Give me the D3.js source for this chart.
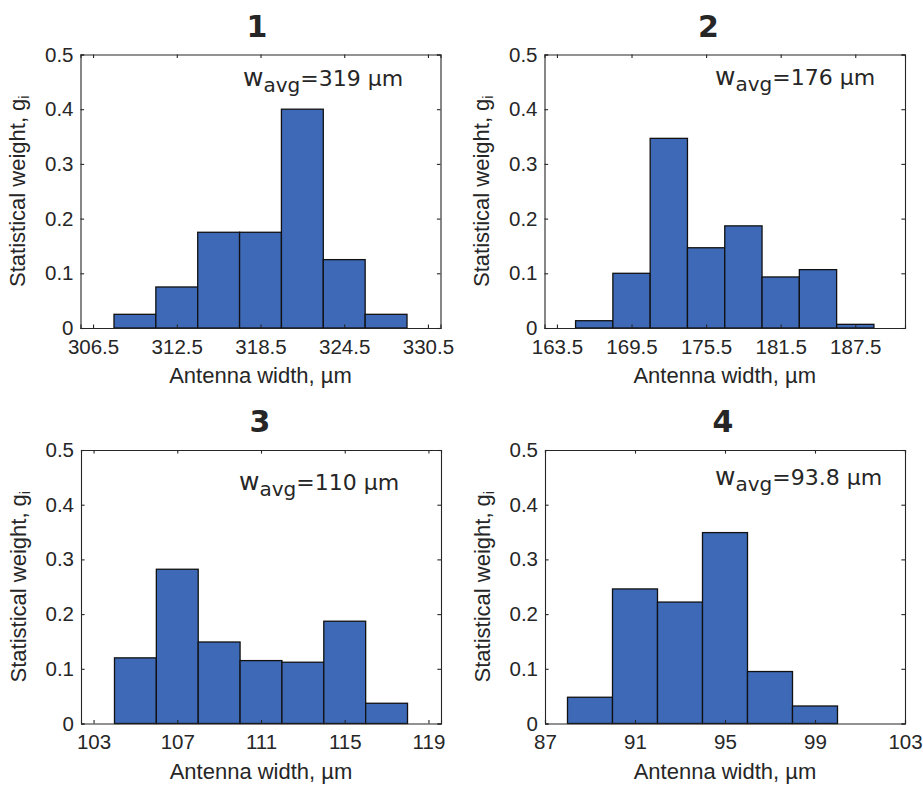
<!DOCTYPE html>
<meta charset="utf-8">
<head>
<script src="https://cdn.jsdelivr.net/npm/d3@7"></script>
<style>
  body { margin: 0; background: #fff; }
  text { font-family: "Liberation Sans", Arial, sans-serif; fill: #262626; }
</style>
</head>
<body>
<div id="chart"></div>
<script>

// histogram data
var titles = ["1", "2", "3", "4"];
var avgText = ["=319 µm", "=176 µm", "=110 µm", "=93.8 µm"];

var edges1 = [308, 311, 314, 317, 320, 323, 326, 329];
var weights1 = [0.025, 0.075, 0.175, 0.175, 0.4, 0.125, 0.025];
var ticks1 = [306.5, 312.5, 318.5, 324.5, 330.5];

var edges2 = [165, 168, 171, 174, 177, 180, 183, 186, 189];
var weights2 = [0.0133, 0.1, 0.3467, 0.1467, 0.1867, 0.0933, 0.1067, 0.0067];
var ticks2 = [163.5, 169.5, 175.5, 181.5, 187.5];

var edges3 = [104, 106, 108, 110, 112, 114, 116, 118];
var weights3 = [0.12, 0.282, 0.149, 0.115, 0.112, 0.187, 0.037];
var ticks3 = [103, 107, 111, 115, 119];

var edges4 = [88, 90, 92, 94, 96, 98, 100];
var weights4 = [0.048, 0.246, 0.222, 0.349, 0.095, 0.032];
var ticks4 = [87, 91, 95, 99, 103];

var yTicks = [0, 0.1, 0.2, 0.3, 0.4, 0.5];

var width = 923, height = 785;

// where each axes box sits and its x-limits
var panels = [
  {edges: edges1, w: weights1, ticks: ticks1, xlim: [305.6, 331.4], box: [80.5, 54.5, 440.5, 328], titleX: 257, annY: 86, annX: 243, ylabX: 25},
  {edges: edges2, w: weights2, ticks: ticks2, xlim: [162.5, 191.5], box: [544.5, 54.5, 905, 328], titleX: 708.5, annY: 85, annX: 715, ylabX: 489},
  {edges: edges3, w: weights3, ticks: ticks3, xlim: [102.4, 119.6], box: [81, 450, 441, 723.5], titleX: 260, annY: 490, annX: 239, ylabX: 26},
  {edges: edges4, w: weights4, ticks: ticks4, xlim: [87, 103], box: [545, 450, 905, 723.5], titleX: 723, annY: 485, annX: 715, ylabX: 490}
];

var svg = d3.select("#chart").append("svg")
    .attr("width", width)
    .attr("height", height);

var tickLen = 3.6;

panels.forEach(function(p, k) {
  var x0 = p.box[0], y0 = p.box[1], x1 = p.box[2], y1 = p.box[3];
  var x = d3.scaleLinear().domain(p.xlim).range([x0, x1]);
  var y = d3.scaleLinear().domain([0, 0.5]).range([y1, y0]);

  var g = svg.append("g");

  // bars
  var bins = p.w.map(function(v, i) { return {a: p.edges[i], b: p.edges[i + 1], v: v}; });
  g.selectAll(".bar")
    .data(bins)
    .enter().append("rect")
    .attr("class", "bar")
    .attr("x", function(d) { return x(d.a); })
    .attr("y", function(d) { return y(d.v); })
    .attr("width", function(d) { return x(d.b) - x(d.a); })
    .attr("height", function(d) { return y(0) - y(d.v); })
    .attr("fill", "#3d69b7")
    .attr("stroke", "#111")
    .attr("stroke-width", 1.3);

  // axes, inward ticks, drawn on top
  var xb = d3.axisBottom(x).tickValues(p.ticks).tickSize(-tickLen).tickPadding(11)
      .tickFormat(function(d) { return d % 1 ? d3.format(".1f")(d) : d; });
  var xt = d3.axisTop(x).tickValues(p.ticks).tickSize(-tickLen).tickFormat("");
  var yl = d3.axisLeft(y).tickValues(yTicks).tickSize(-tickLen).tickPadding(7)
      .tickFormat(function(d) { return d === 0 ? "0" : d3.format(".1f")(d); });
  var yr = d3.axisRight(y).tickValues(yTicks).tickSize(-tickLen).tickFormat("");

  [[xb, "translate(0," + y1 + ")"], [xt, "translate(0," + y0 + ")"],
   [yl, "translate(" + x0 + ",0)"], [yr, "translate(" + x1 + ",0)"]].forEach(function(a) {
    var ax = g.append("g").attr("transform", a[1]).call(a[0]);
    ax.select(".domain").attr("stroke", "#262626").attr("stroke-width", 1.1);
    ax.selectAll(".tick line").attr("stroke", "#262626").attr("stroke-width", 1.1);
    ax.selectAll("text").style("font-size", "20.5px").attr("fill", "#262626")
      .style("font-family", "'Liberation Sans', Arial, sans-serif");
  });

  // title
  g.append("text")
    .attr("x", p.titleX).attr("y", y0 - 18)
    .attr("text-anchor", "middle")
    .style("font-family", "'DejaVu Sans', Verdana, sans-serif")
    .style("font-weight", "bold")
    .style("font-size", "30px")
    .attr("fill", "#000")
    .text(titles[k]);

  // x label
  g.append("text")
    .attr("x", (x0 + x1) / 2).attr("y", y1 + 55)
    .attr("text-anchor", "middle")
    .style("font-size", "22px")
    .text("Antenna width, µm");

  // y label
  var ylab = g.append("text")
    .attr("transform", "translate(" + p.ylabX + "," + ((y0 + y1) / 2) + ") rotate(-90)")
    .attr("text-anchor", "middle")
    .style("font-size", "22px");
  ylab.append("tspan").text("Statistical weight, g");
  ylab.append("tspan").attr("dy", 4).style("font-size", "14px").text("i");

  // w_avg annotation
  var ann = g.append("text")
    .attr("x", p.annX).attr("y", p.annY)
    .style("font-family", "'DejaVu Sans', Verdana, sans-serif")
    .attr("fill", "#000");
  ann.append("tspan").style("font-size", "25px").text("w");
  ann.append("tspan").attr("dy", 5.5).style("font-size", "20px").text("avg");
  ann.append("tspan").attr("dy", -5.5).style("font-size", "22px").text(avgText[k]);
});

</script>
</body>
